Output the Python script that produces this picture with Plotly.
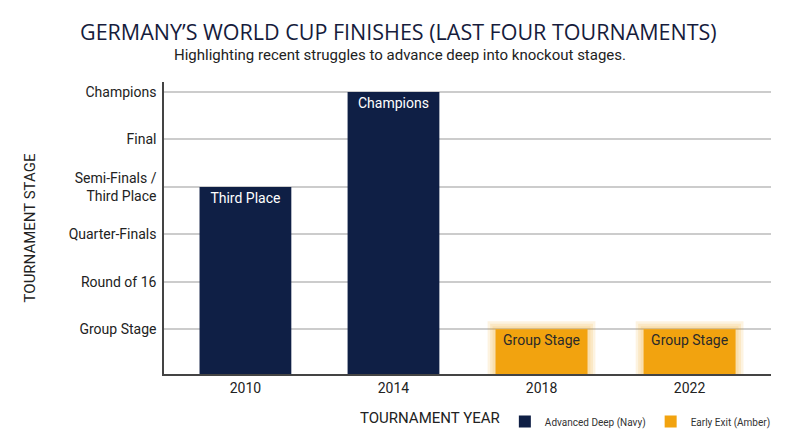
import plotly.graph_objects as go

# data
years = ["2010", "2014", "2018", "2022"]
stage_values = [4, 6, 1, 1]
stage_labels = ["Third Place", "Champions", "Group Stage", "Group Stage"]
group = ["deep", "deep", "early", "early"]

tick_vals = [1, 2, 3, 4, 5, 6]
tick_text = ["Group Stage", "Round of 16", "Quarter-Finals",
             "Semi-Finals /<br>Third Place", "Final", "Champions"]

NAVY = "#0f1f45"
AMBER = "#f2a30f"
AMBER_GLOW = "rgba(242,163,15,0.13)"

deep_x = [y for y, g in zip(years, group) if g == "deep"]
deep_y = [v for v, g in zip(stage_values, group) if g == "deep"]
deep_t = [t for t, g in zip(stage_labels, group) if g == "deep"]
early_x = [y for y, g in zip(years, group) if g == "early"]
early_y = [v for v, g in zip(stage_values, group) if g == "early"]
early_t = [t for t, g in zip(stage_labels, group) if g == "early"]

BAR_W = 0.62

fig = go.Figure()

# soft glow behind the amber bars
for lw in (16, 11, 6):
    fig.add_trace(go.Bar(
        x=early_x, y=early_y, width=BAR_W,
        marker=dict(color=AMBER_GLOW, line=dict(color=AMBER_GLOW, width=lw)),
        showlegend=False, hoverinfo="skip",
    ))

fig.add_trace(go.Bar(
    x=deep_x, y=deep_y, width=BAR_W, name="Advanced Deep (Navy)",
    marker=dict(color=NAVY, line=dict(width=0)),
    text=deep_t, textposition="inside", insidetextanchor="end",
    textangle=0,
    textfont=dict(family="Roboto", size=14, color="white"),
))
fig.add_trace(go.Bar(
    x=early_x, y=early_y, width=BAR_W, name="Early Exit (Amber)",
    marker=dict(color=AMBER, line=dict(width=0)),
    text=early_t, textposition="inside", insidetextanchor="end",
    textangle=0,
    textfont=dict(family="Roboto", size=14, color="#2a2a2a"),
))

fig.update_layout(
    width=800, height=447,
    barmode="overlay",
    paper_bgcolor="white", plot_bgcolor="white",
    margin=dict(l=156, r=37, t=74, b=81, autoexpand=False),
    font=dict(family="Roboto", color="#333333"),
    uniformtext=dict(minsize=10, mode="show"),
    legend=dict(
        orientation="h", x=1.008, xanchor="right", y=-0.163, yanchor="middle",
        font=dict(family="Roboto", size=10, color="#333333"),
        traceorder="normal",
    ),
    showlegend=True,
)

fig.add_annotation(
    text="GERMANY\u2019S WORLD CUP FINISHES (LAST FOUR TOURNAMENTS)",
    xref="paper", yref="paper", x=0.387, y=1.0, yshift=51,
    xanchor="center", yanchor="middle", showarrow=False,
    font=dict(family="Open Sans", size=21.5, color="#161c3c"),
)
fig.add_annotation(
    text="Highlighting recent struggles to advance deep into knockout stages.",
    xref="paper", yref="paper", x=0.389, y=1.0, yshift=27,
    xanchor="center", yanchor="middle", showarrow=False,
    font=dict(family="Roboto", size=15, color="#222222"),
)
fig.add_annotation(
    text="TOURNAMENT YEAR",
    xref="paper", yref="paper", x=0.438, y=0.0, yshift=-44,
    xanchor="center", yanchor="middle", showarrow=False,
    font=dict(family="Roboto", size=15, color="#222222"),
)

fig.update_xaxes(
    type="category", categoryorder="array", categoryarray=years,
    range=[-0.55, 3.55], automargin=False,
    showline=True, linecolor="#444444", linewidth=1.5,
    showgrid=False, ticks="",
    tickfont=dict(family="Roboto", size=14, color="#222222"),
)
fig.update_yaxes(
    range=[0.06, 6.21], tickvals=tick_vals, ticktext=tick_text,
    automargin=False,
    showline=True, linecolor="#444444", linewidth=1.5,
    showgrid=True, gridcolor="#cccccc", gridwidth=1.5,
    zeroline=False, ticks="", ticklabelstandoff=3,
    tickfont=dict(family="Roboto", size=14, color="#222222"),
    title=dict(text="TOURNAMENT STAGE", standoff=29,
               font=dict(family="Roboto", size=15, color="#222222")),
)

fig.write_html("out.html")
